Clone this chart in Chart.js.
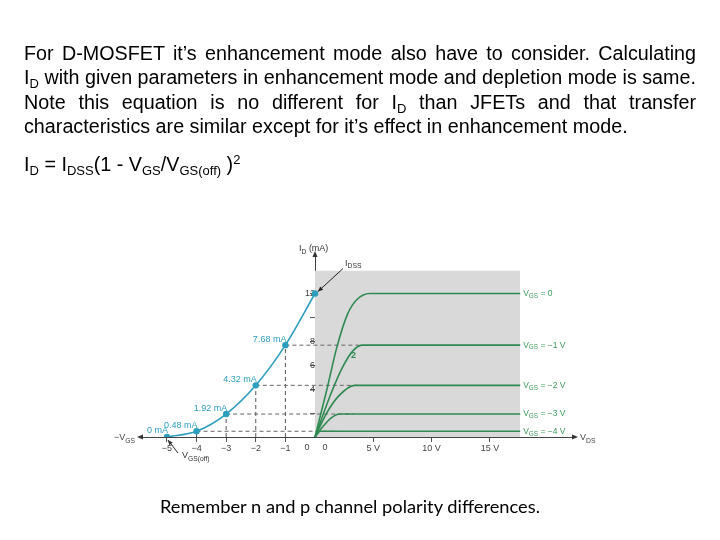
<!DOCTYPE html>
<html>
<head>
<meta charset="utf-8">
<script src="https://cdn.jsdelivr.net/npm/chart.js@4"></script>
<style>
html, body { margin: 0; padding: 0; background: #fff; width: 720px; height: 540px; overflow: hidden; }
#wrap { position: relative; width: 720px; height: 540px; }
canvas { position: absolute; left: 0; top: 0; }
.txt { position: absolute; font-family: "Liberation Sans", Arial, sans-serif; color: #000; font-size: 19.5px; line-height: 24.3px; transform-origin: 0 0; }
#para { left: 24px; top: 41px; width: 2000px; }
#para.fitted .j { text-align: justify; text-align-last: justify; }
#para span { white-space: nowrap; }
#formula { left: 24px; top: 152px; white-space: nowrap; }
sub { font-size: 0.66em; vertical-align: -0.3em; line-height: 0; }
sup { font-size: 0.66em; vertical-align: 0.55em; line-height: 0; }
#note { position: absolute; left: 160px; top: 496px; font-family: Lato, "Noto Sans", sans-serif; font-size: 17px; white-space: nowrap; transform-origin: 0 0; }
</style>
</head>
<body>
<div id="wrap">
  <canvas id="chart" width="720" height="540"></canvas>
  <div id="para" class="txt">
    <div class="j"><span>For D-MOSFET it’s enhancement mode also have to consider. Calculating</span></div>
    <div class="j"><span>I<sub>D</sub> with given parameters in enhancement mode and depletion mode is same.</span></div>
    <div class="j"><span>Note this equation is no different for I<sub>D</sub> than JFETs and that transfer</span></div>
    <div><span>characteristics are similar except for it’s effect in enhancement mode.</span></div>
  </div>
  <div id="formula" class="txt">I<sub>D</sub> = I<sub>DSS</sub>(1 - V<sub>GS</sub>/V<sub>GS(off)</sub> )<sup>2</sup></div>
  <div id="note">Remember n and p channel polarity differences.</div>
</div>
<script>
// transfer characteristic (left half)
const vgsSteps = [-5, -4, -3, -2, -1, 0];
const idTransfer = [0, 0.48, 1.92, 4.32, 7.68, 12];
const transferLabels = ['0 mA', '0.48 mA', '1.92 mA', '4.32 mA', '7.68 mA'];

// drain curves (right half)
const vdsGs0 = [0, 1.0, 1.9, 2.8, 3.6, 4.7, 17.6];
const idGs0 = [0, 3.9, 7.6, 10.3, 11.5, 12, 12];
const vdsGs1 = [0, 1.4, 2.4, 3.25, 4.1, 17.6];
const idGs1 = [0, 3.7, 5.9, 7.2, 7.68, 7.68];
const vdsGs2 = [0, 1.0, 2.0, 3.4, 17.6];
const idGs2 = [0, 2.0, 3.4, 4.32, 4.32];
const vdsGs3 = [0, 0.7, 1.4, 2.1, 17.6];
const idGs3 = [0, 0.9, 1.6, 1.92, 1.92];
const vdsGs4 = [0, 0.45, 17.6];
const idGs4 = [0, 0.48, 0.48];
const curveLabels = ['0', '\u22121 V', '\u22122 V', '\u22123 V', '\u22124 V'];

// where the dashed projections end on the drain side (same order as vgsSteps)
const dashEndVds = [0, 1.9, 3.3, 3.85, 4.1];

// shaded drain region
const shadeVds = [0, 17.6];
const shadeTop = 13.9;

// ticks
const vgsTicks = [-5, -4, -3, -2, -1];
const vdsTicks = [5, 10, 15];
const idTicks = [2, 4, 6, 8, 10, 12];
const idTickLabels = [4, 6, 8, 12];

const teal = '#2c9ebd';
const green = '#2f8a52';
const greenText = '#3b9b5d';
const font = '"Liberation Sans", Arial, sans-serif';

// x axis: volts below zero (VGS) and above zero (VDS) use different spacing
class SplitScale extends Chart.LinearScale {
  splitPixel() {
    return this.left + (this.right - this.left) * this.options.splitShare;
  }
  getPixelForValue(v) {
    if (v === null || v === undefined) return NaN;
    const s = this.splitPixel();
    if (v < 0) return s - (v / this.min) * (s - this.left);
    return s + (v / this.max) * (this.right - s);
  }
  getValueForPixel(p) {
    const s = this.splitPixel();
    if (p < s) return ((s - p) / (s - this.left)) * this.min;
    return ((p - s) / (this.right - s)) * this.max;
  }
}
SplitScale.id = 'split';
SplitScale.defaults = Chart.LinearScale.defaults;
Chart.register(SplitScale);

const pts = (xs, ys) => xs.map((x, i) => ({ x, y: ys[i] }));

const drainCurves = [
  pts(vdsGs0, idGs0), pts(vdsGs1, idGs1), pts(vdsGs2, idGs2),
  pts(vdsGs3, idGs3), pts(vdsGs4, idGs4)
];

const datasets = [];

datasets.push({
  data: pts(shadeVds, shadeVds.map(() => shadeTop)),
  fill: 'origin', backgroundColor: '#d9d9d9', borderWidth: 0,
  pointRadius: 0, order: 10
});

// dashed projections
vgsSteps.forEach((v, i) => {
  if (v === -5) return;
  datasets.push({
    data: [{ x: v, y: idTransfer[i] }, { x: dashEndVds[i], y: idTransfer[i] }],
    borderColor: '#666', borderWidth: 1, borderDash: [4, 3],
    pointRadius: 0, order: 5
  });
  if (v !== 0) {
    datasets.push({
      data: [{ x: v, y: 0 }, { x: v, y: idTransfer[i] }],
      borderColor: '#555', borderWidth: 1, borderDash: [4, 3],
      pointRadius: 0, order: 5
    });
  }
});

drainCurves.forEach(c => {
  datasets.push({
    data: c, borderColor: green, borderWidth: 1.6,
    cubicInterpolationMode: 'monotone', pointRadius: 0, order: 2
  });
});

datasets.push({
  data: pts(vgsSteps, idTransfer), borderColor: teal, borderWidth: 1.6,
  cubicInterpolationMode: 'monotone',
  pointRadius: 3.2, pointBackgroundColor: teal, pointBorderWidth: 0, order: 1
});

function richText(ctx, x, y, parts, align, color, size) {
  let w = 0;
  parts.forEach(([t, k]) => {
    ctx.font = (k ? size * 0.75 : size) + 'px ' + font;
    w += ctx.measureText(t).width;
  });
  let cx = align === 'right' ? x - w : align === 'center' ? x - w / 2 : x;
  ctx.fillStyle = color;
  ctx.textAlign = 'left';
  ctx.textBaseline = 'middle';
  parts.forEach(([t, k]) => {
    ctx.font = (k ? size * 0.75 : size) + 'px ' + font;
    ctx.fillText(t, cx, k ? y + size * 0.3 : y);
    cx += ctx.measureText(t).width;
  });
}

function arrowHead(ctx, x, y, dx, dy, len, half) {
  const n = Math.hypot(dx, dy);
  const ux = dx / n, uy = dy / n;
  ctx.beginPath();
  ctx.moveTo(x, y);
  ctx.lineTo(x - ux * len - uy * half, y - uy * len + ux * half);
  ctx.lineTo(x - ux * len + uy * half, y - uy * len - ux * half);
  ctx.closePath();
  ctx.fill();
}

function pointer(ctx, x1, y1, x2, y2) {
  ctx.beginPath();
  ctx.moveTo(x1, y1);
  ctx.lineTo(x2, y2);
  ctx.stroke();
  arrowHead(ctx, x2, y2, x2 - x1, y2 - y1, 5, 2.2);
}

const annotate = {
  id: 'annotate',
  afterDraw(chart) {
    const { ctx, chartArea: a, scales: { x, y } } = chart;
    const x0 = x.getPixelForValue(0);
    const y0 = y.getPixelForValue(0);
    ctx.save();

    // axis arrows
    ctx.fillStyle = '#333';
    arrowHead(ctx, x0, a.top - 4, 0, -1, 6, 2.5);
    arrowHead(ctx, a.left - 3, y0, -1, 0, 6, 2.5);
    arrowHead(ctx, a.right + 3, y0, 1, 0, 6, 2.5);

    // axis titles
    richText(ctx, x0 - 16, a.top - 6, [['I', ''], ['D', 's'], [' (mA)', '']], 'left', '#333', 9);
    richText(ctx, a.left - 5, y0 + 1, [['\u2212V', ''], ['GS', 's']], 'right', '#444', 9);
    richText(ctx, a.right + 5, y0 + 1, [['V', ''], ['DS', 's']], 'left', '#444', 9);

    // the two zero labels
    ctx.font = '9px ' + font;
    ctx.fillStyle = '#444';
    ctx.textAlign = 'center';
    ctx.textBaseline = 'middle';
    ctx.fillText('0', x0 - 8, y0 + 11);
    ctx.fillText('0', x0 + 10, y0 + 11);

    // transfer point values
    transferLabels.forEach((t, i) => {
      const px = x.getPixelForValue(vgsSteps[i]);
      const py = y.getPixelForValue(idTransfer[i]);
      richText(ctx, px + 1, py - 6, [[t, '']], 'right', teal, 9);
    });

    // curve names
    drainCurves.forEach((c, i) => {
      const last = c[c.length - 1];
      richText(ctx, x.getPixelForValue(last.x) + 3, y.getPixelForValue(last.y),
        [['V', ''], ['GS', 's'], [' = ' + curveLabels[i], '']], 'left', greenText, 8.5);
    });

    // IDSS pointer
    ctx.strokeStyle = '#222';
    ctx.fillStyle = '#222';
    ctx.lineWidth = 1;
    const pIdss = { x: x0, y: y.getPixelForValue(idTransfer[5]) };
    pointer(ctx, pIdss.x + 28, pIdss.y - 25, pIdss.x + 3, pIdss.y - 2);
    richText(ctx, pIdss.x + 30, pIdss.y - 30, [['I', ''], ['DSS', 's']], 'left', '#333', 9);

    // VGS(off) pointer
    const pOff = { x: x.getPixelForValue(vgsSteps[0]), y: y0 };
    pointer(ctx, pOff.x + 11, pOff.y + 16, pOff.x + 1, pOff.y + 3);
    richText(ctx, pOff.x + 15, pOff.y + 19, [['V', ''], ['GS(off)', 's']], 'left', '#333', 9);

    // small curve marker
    ctx.font = 'bold 9px ' + font;
    ctx.fillStyle = green;
    ctx.textAlign = 'center';
    ctx.fillText('2', x.getPixelForValue(3.3), y.getPixelForValue(6.8));

    ctx.restore();
  }
};

new Chart(document.getElementById('chart'), {
  type: 'line',
  data: { datasets },
  options: {
    responsive: false,
    animation: false,
    layout: { padding: { left: 140, right: 145, top: 255, bottom: 103 } },
    plugins: { legend: { display: false }, tooltip: { enabled: false } },
    scales: {
      x: {
        type: 'split',
        splitShare: 175 / 435,
        min: -5.91,
        max: 22.3,
        position: { y: 0 },
        afterFit: s => { s.height = 0; },
        afterBuildTicks: s => { s.ticks = vgsTicks.concat(vdsTicks).map(v => ({ value: v })); },
        grid: { drawOnChartArea: false, tickLength: 4, color: '#555' },
        border: { color: '#444', width: 1 },
        ticks: {
          autoSkip: false, maxRotation: 0, padding: 2, color: '#444',
          font: { size: 9, family: font },
          callback: v => v < 0 ? '\u2212' + (-v) : v + ' V'
        }
      },
      y: {
        min: 0,
        max: 15.22,
        position: { x: 0 },
        afterFit: s => { s.width = 0; },
        afterBuildTicks: s => { s.ticks = idTicks.map(v => ({ value: v })); },
        grid: { drawOnChartArea: false, tickLength: 5, color: '#555' },
        border: { color: '#444', width: 1 },
        ticks: {
          padding: 2, color: '#444',
          font: { size: 9, family: font },
          callback: v => idTickLabels.includes(v) ? String(v) : ''
        }
      }
    }
  },
  plugins: [annotate]
});

// fit the text blocks to the widths seen in the slide
const para = document.getElementById('para');
const spans = para.querySelectorAll('span');
const targets = [672, 672, 672, 639];
let k = Infinity;
spans.forEach((s, i) => { k = Math.min(k, targets[i] / s.getBoundingClientRect().width); });
para.style.width = (672 / k) + 'px';
para.style.transform = 'scaleX(' + k + ')';
para.classList.add('fitted');
document.getElementById('formula').style.transform = 'scaleX(' + k + ')';
const note = document.getElementById('note');
note.style.transform = 'scaleX(' + (380 / note.getBoundingClientRect().width) + ')';
</script>
</body>
</html>
